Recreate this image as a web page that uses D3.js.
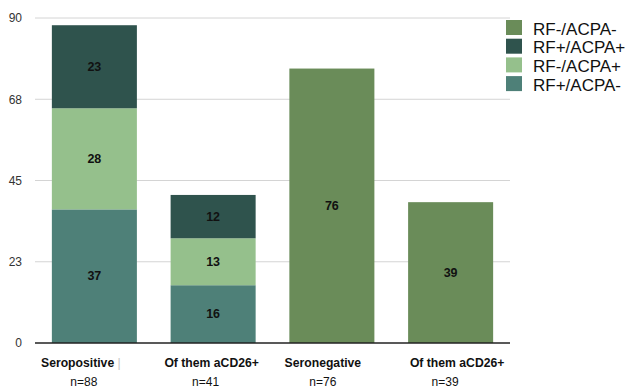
<!DOCTYPE html>
<html>
<head>
<meta charset="utf-8">
<script src="https://cdn.jsdelivr.net/npm/d3@7"></script>
<style>
  html, body { margin: 0; padding: 0; background: #fff; }
  svg { display: block; font-family: "Liberation Sans", Arial, Helvetica, sans-serif; }
</style>
</head>
<body>
<svg id="chart" width="627" height="389"></svg>
<script>
// Groups along the x axis and their sample sizes
const categories = ["Seropositive", "Of them aCD26+", "Seronegative", "Of them aCD26+"];
const sampleSizes = ["n=88", "n=41", "n=76", "n=39"];

// Stacked series (bottom to top)
const rfPosAcpaNeg = [37, 16, 0, 0];   // RF+/ACPA-
const rfNegAcpaPos = [28, 13, 0, 0];   // RF-/ACPA+
const rfPosAcpaPos = [23, 12, 0, 0];   // RF+/ACPA+
const rfNegAcpaNeg = [0, 0, 76, 39];   // RF-/ACPA-

const seriesKeys = ["RF+/ACPA-", "RF-/ACPA+", "RF+/ACPA+", "RF-/ACPA-"];
const legendOrder = ["RF-/ACPA-", "RF+/ACPA+", "RF-/ACPA+", "RF+/ACPA-"];

// Y axis ticks and their printed labels
const yTickValues = [0, 22.5, 45, 67.5, 90];
const yTickLabels = ["0", "23", "45", "68", "90"];

const colors = {
  "RF+/ACPA-": "#4e8078",
  "RF-/ACPA+": "#95c08c",
  "RF+/ACPA+": "#2f534d",
  "RF-/ACPA-": "#6a8c59"
};

// Build the rows for d3.stack
const rows = categories.map((c, i) => ({
  idx: i,
  "RF+/ACPA-": rfPosAcpaNeg[i],
  "RF-/ACPA+": rfNegAcpaPos[i],
  "RF+/ACPA+": rfPosAcpaPos[i],
  "RF-/ACPA-": rfNegAcpaNeg[i]
}));

const svg = d3.select("#chart");
const plot = { left: 35, right: 510, top: 18, bottom: 343 };

const x = d3.scaleBand()
  .domain(categories.map((c, i) => i))
  .range([plot.left, plot.right])
  .paddingInner(0.284)
  .paddingOuter(0.142);

const y = d3.scaleLinear()
  .domain([0, 90])
  .range([plot.bottom, plot.top]);

// Horizontal gridlines
svg.append("g")
  .selectAll("line")
  .data(yTickValues.filter(v => v > 0))
  .join("line")
  .attr("x1", plot.left)
  .attr("x2", plot.right)
  .attr("y1", d => y(d))
  .attr("y2", d => y(d))
  .attr("stroke", "#d4d4d4")
  .attr("stroke-width", 1);

// Y axis labels
const yAxis = d3.axisLeft(y)
  .tickValues(yTickValues)
  .tickFormat((d, i) => yTickLabels[i])
  .tickSize(0)
  .tickPadding(13);

const yg = svg.append("g")
  .attr("transform", `translate(${plot.left},0)`)
  .call(yAxis);
yg.select(".domain").remove();
yg.selectAll("text")
  .attr("font-size", 12)
  .attr("font-family", "Liberation Sans, Arial, sans-serif")
  .attr("fill", "#333");

// Stacked bars
const stack = d3.stack().keys(seriesKeys);
const layers = stack(rows);

const layerG = svg.append("g")
  .selectAll("g")
  .data(layers)
  .join("g")
  .attr("fill", d => colors[d.key]);

layerG.selectAll("rect")
  .data(d => d.filter(s => s[1] - s[0] > 0))
  .join("rect")
  .attr("x", d => x(d.data.idx))
  .attr("width", x.bandwidth())
  .attr("y", d => y(d[1]))
  .attr("height", d => y(d[0]) - y(d[1]));

// Segment value labels
layerG.selectAll("text")
  .data(d => d.filter(s => s[1] - s[0] > 0))
  .join("text")
  .attr("x", d => x(d.data.idx) + x.bandwidth() / 2)
  .attr("y", d => y((d[0] + d[1]) / 2))
  .attr("text-anchor", "middle")
  .attr("dominant-baseline", "central")
  .attr("font-size", 12.5)
  .attr("font-weight", "bold")
  .attr("fill", "#111")
  .text(d => d[1] - d[0]);

// Baseline
svg.append("line")
  .attr("x1", plot.left)
  .attr("x2", plot.right)
  .attr("y1", y(0))
  .attr("y2", y(0))
  .attr("stroke", "#222")
  .attr("stroke-width", 1.5);

// Category labels with their small horizontal nudges
const nameShift = [-13.5, -1.5, -9, 6.5];
const sizeShift = [-10.5, -7.5, -9, -5.5];

const names = svg.append("g")
  .selectAll("text")
  .data(categories)
  .join("text")
  .attr("x", (d, i) => x(i) + x.bandwidth() / 2 + nameShift[i])
  .attr("y", 367)
  .attr("text-anchor", "middle")
  .attr("font-size", 12.2)
  .attr("font-weight", "bold")
  .attr("fill", "#111");
names.append("tspan").text(d => d);
names.filter((d, i) => i === 0)
  .append("tspan")
  .attr("font-weight", "normal")
  .attr("fill", "#c4c4c4")
  .text(" |");

svg.append("g")
  .selectAll("text")
  .data(sampleSizes)
  .join("text")
  .attr("x", (d, i) => x(i) + x.bandwidth() / 2 + sizeShift[i])
  .attr("y", 386)
  .attr("text-anchor", "middle")
  .attr("font-size", 12)
  .attr("fill", "#111")
  .text(d => d);

// Legend
const legend = svg.append("g")
  .attr("transform", "translate(506,20)");
const item = legend.selectAll("g")
  .data(legendOrder)
  .join("g")
  .attr("transform", (d, i) => `translate(0,${i * 18.7})`);
item.append("rect")
  .attr("width", 16)
  .attr("height", 15)
  .attr("fill", d => colors[d]);
item.append("text")
  .attr("x", 27)
  .attr("y", 14.5)
  .attr("font-size", 17)
  .attr("fill", "#111")
  .text(d => d);
</script>
</body>
</html>
